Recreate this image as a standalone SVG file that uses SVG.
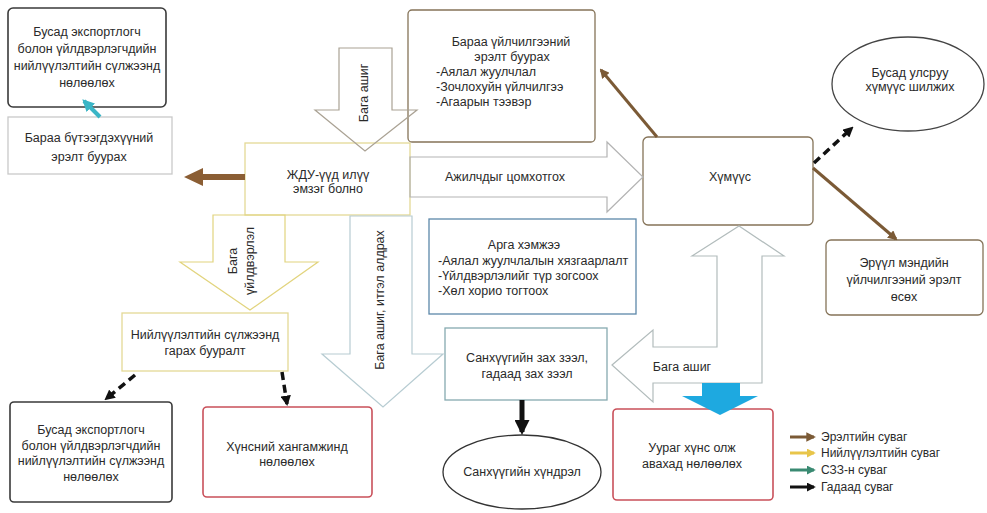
<svg xmlns="http://www.w3.org/2000/svg" width="987" height="513" viewBox="0 0 987 513">
<style>
text{font-family:"Liberation Sans","DejaVu Sans",Arial,sans-serif;font-size:12.5px;fill:#2a2a2a;text-anchor:middle}
.l{text-anchor:start}
.lg{font-size:12px;text-anchor:start}
.box{fill:#fff;stroke-width:1.3}
.dark{stroke:#3a3a3a;stroke-width:1.6}
.gray{stroke:#c9c9c9}
.yel{stroke:#e4d996}
.brn{stroke:#857358}
.blu{stroke:#5c88aa}
.tea{stroke:#86aab0}
.red{stroke:#c9505a;stroke-width:1.6}
.blk{fill:none;stroke-width:1.2}
</style>
<defs>
<marker id="hb" viewBox="0 0 10 10" refX="8" refY="5" markerWidth="3.2" markerHeight="3.2" orient="auto"><path d="M0,0 L10,5 L0,10 z" fill="#7b5a36"/></marker>
<marker id="hk" viewBox="0 0 10 10" refX="8" refY="5" markerWidth="3" markerHeight="3" orient="auto"><path d="M0,0 L10,5 L0,10 z" fill="#111"/></marker>
<marker id="hc" viewBox="0 0 10 10" refX="8" refY="5" markerWidth="3" markerHeight="3" orient="auto"><path d="M0,0 L10,5 L0,10 z" fill="#3ab5c6"/></marker>
<marker id="hy" viewBox="0 0 10 10" refX="8" refY="5" markerWidth="3" markerHeight="3" orient="auto"><path d="M0,0 L10,5 L0,10 z" fill="#e8c54a"/></marker>
<marker id="ht" viewBox="0 0 10 10" refX="8" refY="5" markerWidth="3" markerHeight="3" orient="auto"><path d="M0,0 L10,5 L0,10 z" fill="#3a8a72"/></marker>
</defs>
<rect width="987" height="513" fill="#fff"/>

<g id="n-export-top"><rect class="box dark" x="8" y="8" width="158" height="99" rx="5"/>
<text x="87" y="36">Бусад экспортлогч</text><text x="87" y="53">болон үйлдвэрлэгчдийн</text><text x="87" y="70">нийлүүлэлтийн сүлжээнд</text><text x="87" y="87">нөлөөлөх</text></g>

<g id="n-goods-demand"><rect class="box gray" x="8" y="117" width="164" height="57"/>
<text x="89" y="142">Бараа бүтээгдэхүүний</text><text x="89" y="161">эрэлт буурах</text></g>

<g id="n-jdu"><rect class="box yel" x="245" y="143" width="165" height="72"/>
<text x="328" y="179">ЖДУ-үүд илүү</text><text x="328" y="193">эмзэг болно</text></g>

<g id="n-services"><rect class="box brn" x="408" y="10" width="187" height="132" rx="4"/>
<text x="511" y="46">Бараа үйлчилгээний</text><text x="512" y="61">эрэлт буурах</text>
<text class="l" x="436" y="76">-Аялал жуулчлал</text><text class="l" x="436" y="91">-Зочлохуйн үйлчилгээ</text><text class="l" x="436" y="106">-Агаарын тээвэр</text></g>

<g id="n-people"><rect class="box brn" x="643" y="137" width="170" height="88" rx="5"/>
<text x="730" y="181">Хүмүүс</text></g>

<g id="n-migrate"><ellipse class="box" cx="908" cy="84" rx="76" ry="47" stroke="#444"/>
<text x="910" y="77">Бусад улсруу</text><text x="910" y="91">хүмүүс шилжих</text></g>

<g id="n-health"><rect class="box brn" x="826" y="240" width="157" height="75" rx="5"/>
<text x="904" y="267">Эрүүл мэндийн</text><text x="904" y="284">үйлчилгээний эрэлт</text><text x="904" y="301">өсөх</text></g>

<g id="n-measures"><rect class="box blu" x="429" y="219" width="207" height="95"/>
<text x="524" y="249">Арга хэмжээ</text>
<text class="l" x="438" y="265">-Аялал жуулчлалын хязгаарлалт</text><text class="l" x="438" y="280">-Үйлдвэрлэлийг түр зогсоох</text><text class="l" x="438" y="295">-Хөл хорио тогтоох</text></g>

<g id="n-finmarket"><rect class="box tea" x="445" y="328" width="162" height="72"/>
<text x="527" y="362">Санхүүгийн зах зээл,</text><text x="527" y="378">гадаад зах зээл</text></g>

<g id="n-fincrisis"><ellipse class="box" cx="522" cy="472" rx="79" ry="37" stroke="#333"/>
<text x="522" y="476">Санхүүгийн хүндрэл</text></g>

<g id="n-supply"><rect class="box yel" x="122" y="313" width="166" height="58"/>
<text x="205" y="339">Нийлүүлэлтийн сүлжээнд</text><text x="205" y="355">гарах бууралт</text></g>

<g id="n-export-bottom"><rect class="box dark" x="10" y="402" width="162" height="100" rx="4"/>
<text x="91" y="434">Бусад экспортлогч</text><text x="91" y="450">болон үйлдвэрлэгчдийн</text><text x="91" y="465">нийлүүлэлтийн сүлжээнд</text><text x="91" y="481">нөлөөлөх</text></g>

<g id="n-food"><rect class="box red" x="203" y="407" width="169" height="90" rx="4"/>
<text x="287" y="451">Хүнсний хангамжинд</text><text x="287" y="466">нөлөөлөх</text></g>

<g id="n-protein"><rect class="box red" x="613" y="409" width="160" height="91" rx="4"/>
<text x="692" y="452">Уураг хүнс олж</text><text x="692" y="468">авахад нөлөөлөх</text></g>

<g id="connectors">
<polygon class="blk" stroke="#aaa294" points="339,48 392,48 392,110 417,110 365,151 315,110 339,110"/>
<text transform="translate(368,93) rotate(-90)">Бага ашиг</text>
<polygon class="blk" stroke="#b3b3b3" points="410,157 607,157 607,142 643,177 607,212 607,197 410,197"/>
<text x="505" y="181">Ажилчдыг цомхотгох</text>
<polygon class="blk" stroke="#e2d47e" points="213,215 285,215 285,262 318,262 250,310 180,262 213,262"/>
<text transform="translate(237,261) rotate(-90)">Бага</text>
<text transform="translate(254,261) rotate(-90)">үйлдвэрлэл</text>
<polygon class="blk" stroke="#b7ccd2" points="350,216 412,216 412,354 443,354 383,407 322,354 350,354"/>
<text transform="translate(384,300) rotate(-90)">Бага ашиг, итгэл алдрах</text>
<polygon class="blk" stroke="#b2bcbc" points="612,365 653,330 653,347 717,347 717,256 692,256 739,226 784,256 762,256 762,383 653,383 653,402"/>
<text x="682" y="371">Бага ашиг</text>
<polygon fill="#1ea9e0" points="702,383 740,383 740,396 758,396 720,415 682,396 702,396"/>
<polygon fill="#8b5e34" points="245,174 203,174 203,168 184,177 203,186 203,180 245,180"/>
<line x1="100" y1="117" x2="84" y2="101" stroke="#3ab5c6" stroke-width="4" marker-end="url(#hc)"/>
<line x1="657" y1="137" x2="601" y2="70" stroke="#7b5a36" stroke-width="3" marker-end="url(#hb)"/>
<line x1="813" y1="168" x2="896" y2="239" stroke="#7b5a36" stroke-width="3" marker-end="url(#hb)"/>
<line x1="814" y1="163" x2="852" y2="128" stroke="#111" stroke-width="3.5" stroke-dasharray="8,5" marker-end="url(#hk)"/>
<line x1="135" y1="375" x2="106" y2="399" stroke="#111" stroke-width="3.5" stroke-dasharray="8,5" marker-end="url(#hk)"/>
<line x1="282" y1="372" x2="287" y2="404" stroke="#111" stroke-width="3.5" stroke-dasharray="8,5" marker-end="url(#hk)"/>
<line x1="522" y1="400" x2="522" y2="432" stroke="#111" stroke-width="5" marker-end="url(#hk)"/>
</g>

<g id="legend">
<line x1="790" y1="437" x2="814" y2="437" stroke="#7b5a36" stroke-width="3" marker-end="url(#hb)"/>
<line x1="790" y1="453" x2="814" y2="453" stroke="#e8c54a" stroke-width="3" marker-end="url(#hy)"/>
<line x1="790" y1="470" x2="814" y2="470" stroke="#3a8a72" stroke-width="3" marker-end="url(#ht)"/>
<line x1="790" y1="487" x2="814" y2="487" stroke="#111" stroke-width="3" marker-end="url(#hk)"/>
<text class="lg" x="821" y="441">Эрэлтийн суваг</text>
<text class="lg" x="821" y="457">Нийлүүлэлтийн суваг</text>
<text class="lg" x="821" y="474">СЗЗ-н суваг</text>
<text class="lg" x="821" y="491">Гадаад суваг</text>
</g>
</svg>
